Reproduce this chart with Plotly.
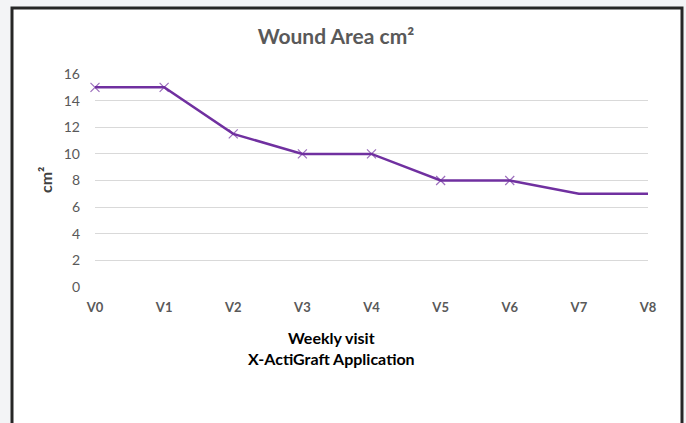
import plotly.graph_objects as go

visits = ["V0", "V1", "V2", "V3", "V4", "V5", "V6", "V7", "V8"]
wound_area = [15, 15, 11.5, 10, 10, 8, 8, 7, 7]
y_ticks = [0, 2, 4, 6, 8, 10, 12, 14, 16]

chart_title = "Wound Area cm²"
x_title = "Weekly visit<br>X-ActiGraft Application"
y_title = "cm²"

FONT = "Lato, Calibri, Carlito, sans-serif"
W, H = 686, 423
L, R, T, B = 95, 38, 74, 136
pw, ph = W - L - R, H - T - B

def px_x(x):
    return (x - L) / pw

def px_y(y):
    return (H - B - y) / ph

marker_sizes = [9] * 7 + [0, 0]

fig = go.Figure()
fig.add_trace(go.Scatter(
    x=visits, y=wound_area, mode="lines+markers",
    line=dict(color="#7030A0", width=2.5),
    marker=dict(symbol="x-thin-open", size=marker_sizes, color="#7030A0",
                line=dict(color="#7030A0", width=1.2)),
    cliponaxis=False, showlegend=False,
))

fig.add_shape(type="rect", xref="paper", yref="paper",
              x0=px_x(12), x1=px_x(682), y0=px_y(440), y1=px_y(8),
              fillcolor="white", line=dict(color="#262626", width=3), layer="below")

fig.add_annotation(text=x_title, xref="paper", yref="paper",
                   x=px_x(331), y=px_y(348), xanchor="center", yanchor="middle",
                   showarrow=False, font=dict(family=FONT, size=16, color="#000000", weight="bold"))
fig.add_annotation(text=y_title, xref="paper", yref="paper", textangle=-90,
                   x=px_x(45), y=px_y(180), xanchor="center", yanchor="middle",
                   showarrow=False, font=dict(family=FONT, size=16, color="#404040", weight="bold"))

fig.update_layout(
    width=W, height=H,
    margin=dict(l=L, r=R, t=T, b=B),
    paper_bgcolor="#f3f4f6", plot_bgcolor="white",
    title=dict(text=chart_title, x=336 / W, xanchor="center", y=1 - 37 / H, yanchor="middle",
               font=dict(family=FONT, size=21, color="#595959", weight="bold")),
    xaxis=dict(type="category", categoryorder="array", categoryarray=visits,
               range=[0, len(visits) - 1], showgrid=False, zeroline=False,
               showline=False, ticks="", ticklabelstandoff=11,
               tickfont=dict(family=FONT, size=13, color="#595959", weight="bold")),
    yaxis=dict(range=[0, 16], tickvals=y_ticks, showgrid=True, gridcolor="#d9d9d9",
               gridwidth=1, zeroline=False, showline=False, ticks="", ticklabelstandoff=14,
               tickfont=dict(family=FONT, size=14, color="#595959")),
    font=dict(family=FONT),
)

fig.write_html("out.html", config={"displayModeBar": False},
               post_script="document.body.style.margin='0';document.body.style.background='#f3f4f6';")
